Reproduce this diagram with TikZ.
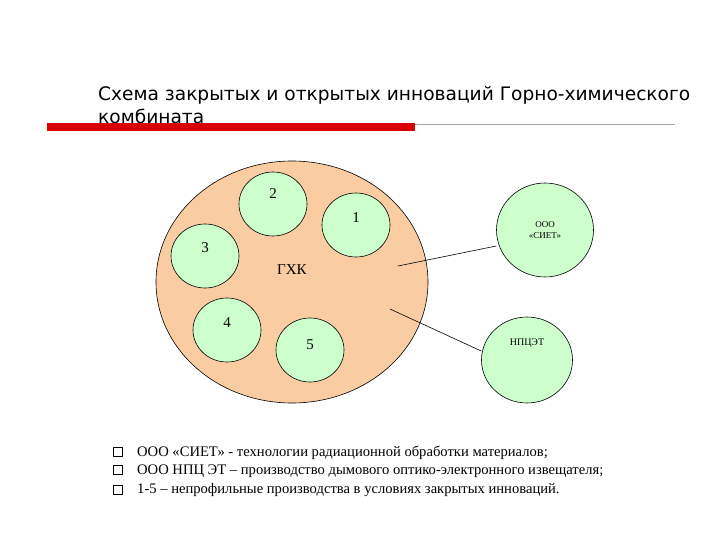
\documentclass[tikz,border=0pt]{standalone}
\usepackage{fontspec}
\usetikzlibrary{shapes.geometric}
\setmainfont{Liberation Serif}
\newfontfamily\titlefont{DejaVu Sans}
\definecolor{peach}{RGB}{250,204,162}
\definecolor{mint}{RGB}{204,255,204}
\begin{document}
\begin{tikzpicture}[x=1pt,y=-1pt,
  inner/.style={draw=black,fill=mint,line width=0.6pt},
  num/.style={font=\fontsize{15}{15}\selectfont},
  bul/.style={draw=black,line width=0.5pt,minimum size=9pt,inner sep=0pt},
  btxt/.style={anchor=west,font=\fontsize{14.6}{15}\selectfont,inner sep=0pt}]
\useasboundingbox (0,0) rectangle (720,540);
\node[anchor=base west,inner sep=0pt,font=\titlefont\fontsize{18.6}{19}\selectfont] (t1) at (98,101) {Схема закрытых и открытых инноваций Горно-химического};
\node[anchor=base west,inner sep=0pt,font=\titlefont\fontsize{18.6}{19}\selectfont] (t2) at (98,124) {комбината};
\fill[red!85!black] (47,123) rectangle (415,131);
\draw[gray!70,line width=0.6pt] (415,124) -- (675,124);
\node[draw=black,fill=peach,line width=0.6pt,ellipse,minimum width=272pt,minimum height=242pt,inner sep=0pt] (gxk) at (292,282) {};
\node[font=\fontsize{15}{15}\selectfont] (gl) at (292,270) {ГХК};
\foreach \n/\x/\y/\ly in {2/273/204/194, 1/356/225/218, 3/205/256/248, 4/227/330/323, 5/310/350/345}{
  \node[inner,ellipse,minimum width=68pt,minimum height=64pt,inner sep=0pt] (e\n) at (\x,\y) {};
  \node[num] (c\n) at (\x,\ly) {\n};
}
\node[inner,ellipse,minimum width=97pt,minimum height=94pt,inner sep=0pt] (siet) at (545,230) {};
\node[font=\fontsize{9}{11}\selectfont,align=center] (sietl) at (545,230) {ООО\\«СИЕТ»};
\node[inner,ellipse,minimum width=91pt,minimum height=86pt,inner sep=0pt] (npc) at (527,360) {};
\node[font=\fontsize{10}{11}\selectfont] (npcl) at (527,343) {НПЦЭТ};
\coordinate (a1) at (398,266);
\coordinate (a2) at (390,309);
\draw[line width=0.6pt] (a1) -- (siet.west|-0,246);
\draw[line width=0.6pt] (a2) -- (npc.west|-0,351);
\node[bul] (b1) at (118,452) {};
\node[bul] (b2) at (118,470) {};
\node[bul] (b3) at (118,490) {};
\node[btxt] (l1) at (137,453) {ООО «СИЕТ» - технологии радиационной обработки материалов;};
\node[btxt] (l2) at (137,471) {ООО НПЦ ЭТ – производство дымового оптико-электронного извещателя;};
\node[btxt] (l3) at (137,490) {1-5 – непрофильные производства в условиях закрытых инноваций.};
\end{tikzpicture}
\end{document}
